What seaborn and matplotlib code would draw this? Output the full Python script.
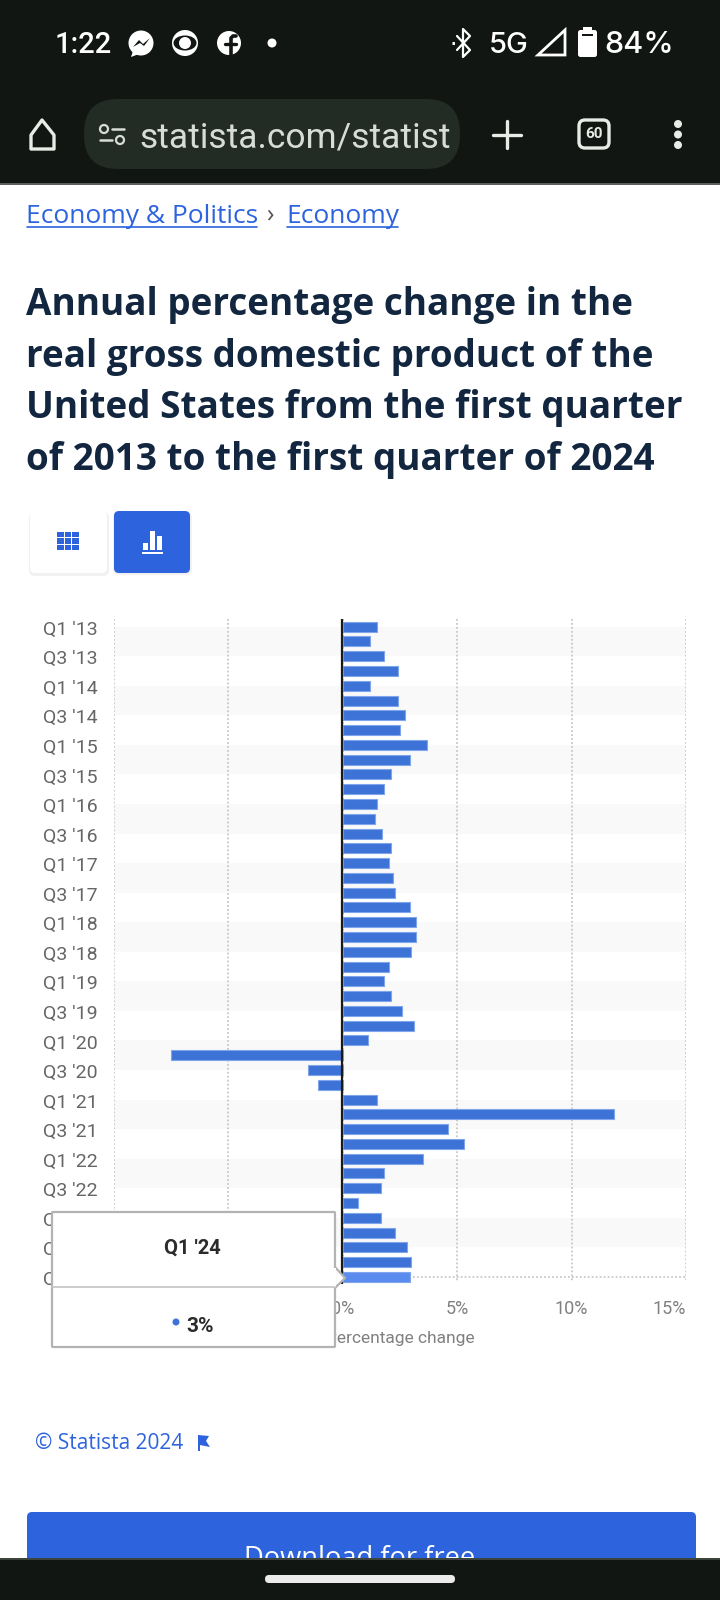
import matplotlib
matplotlib.use('Agg')
import matplotlib.pyplot as plt
from matplotlib.patches import Rectangle, FancyBboxPatch, Circle, Polygon, Ellipse
from matplotlib.transforms import ScaledTranslation
import pandas as pd
import seaborn as sns

quarters = [f"Q{q} '{y}" for y in range(13, 24) for q in range(1, 5)] + ["Q1 '24"]
gdp_change = [1.5, 1.2, 1.8, 2.4, 1.2, 2.4, 2.7, 2.5, 3.7, 2.95, 2.1, 1.8,
              1.5, 1.4, 1.7, 2.1, 2.0, 2.2, 2.3, 2.95, 3.2, 3.2, 3.0, 2.0,
              1.8, 2.1, 2.6, 3.1, 1.1, -7.5, -1.5, -1.1, 1.5, 11.85, 4.6, 5.3,
              3.5, 1.8, 1.65, 0.65, 1.65, 2.3, 2.8, 3.0, 2.95]
x_ticks = [-10, -5, 0, 5, 10, 15]
x_ticklabels = ['-10%', '-5%', '0%', '5%', '10%', '15%']
title_lines = ['Annual percentage change in the',
               'real gross domestic product of the',
               'United States from the first quarter',
               'of 2013 to the first quarter of 2024']

BLUE = '#2d64dd'
BAR = '#3d72d6'
DARK = '#111612'
W, H = 720, 1600

df = pd.DataFrame({'quarter': quarters, 'change': gdp_change})
df['hover'] = ['on' if q == "Q1 '24" else 'off' for q in quarters]

sns.set_theme(style='white')
plt.rcParams['font.family'] = ['Roboto', 'DejaVu Sans']

fig = plt.figure(figsize=(W / 100, H / 100), dpi=100, facecolor='white')
ax = fig.add_axes([114 / W, 1 - 1284.3 / H, (686 - 114) / W, 665 / H])
sns.barplot(data=df, x='change', y='quarter', hue='hover', orient='h', dodge=False,
            palette={'off': BAR, 'on': '#5a8cf0'}, legend=False, width=0.68, saturation=1,
            edgecolor='#7fa5ea', linewidth=0.8, ax=ax, zorder=3)
ax.set_xlim(-10, 15)
ax.set_ylim(44.5, -0.5)

# alternating bands, two rows wide, run from label to label
for i in range(0, len(quarters), 4):
    ax.axhspan(i, min(i + 2, 44), color='#f9f9f9', lw=0, zorder=0)
ax.vlines(x_ticks, -0.5, 44.3, color='#c8c8c8', lw=1.3, ls=(0, (1, 1.2)), zorder=1)
ax.hlines(44, 3.05, 15, color='#c8c8c8', lw=1.3, ls=(0, (1, 1.2)), zorder=1)
ax.axvline(-0.04, color='#1a1a1a', lw=1.6, zorder=4)

ax.set_xticks(x_ticks)
ax.set_xticklabels(x_ticklabels, color='#808080', fontsize=13)
ax.get_xticklabels()[-1].set_ha('right')
ax.get_xticklabels()[-1].set_x(15)
ax.set_yticks(range(0, len(quarters), 2))
ax.set_yticklabels(quarters[::2], color='#666666', fontsize=14)
ax.tick_params(axis='x', length=0, pad=11)
ax.tick_params(axis='y', length=0, pad=12)
# labels sit a little under their bars
for lab in ax.get_yticklabels():
    lab.set_transform(lab.get_transform() + ScaledTranslation(0, -0.01, fig.dpi_scale_trans))
ax.set_xlabel('Percentage change', color='#808080', fontsize=12.5, labelpad=10)
ax.set_ylabel('')
sns.despine(ax=ax, left=True, bottom=True)

# page chrome and tooltip on a pixel overlay
ov = fig.add_axes([0, 0, 1, 1], zorder=10)
ov.set_xlim(0, W)
ov.set_ylim(H, 0)
ov.axis('off')
ov.patch.set_alpha(0)


def rbox(x0, y0, x1, y1, r, fc, ec='none', lw=0, z=2):
    ov.add_patch(FancyBboxPatch((x0 + r, y0 + r), x1 - x0 - 2 * r, y1 - y0 - 2 * r,
                                boxstyle=f'round,pad={r}', fc=fc, ec=ec, lw=lw, zorder=z))


# status and toolbar
ov.add_patch(Rectangle((0, 0), W, 183, fc=DARK, lw=0, zorder=1))
ov.add_patch(Rectangle((0, 183), W, 2, fc='#5a5f5a', lw=0, zorder=1))
ov.text(55, 53, '1:22', color='white', fontsize=21, weight='medium', family='Roboto', zorder=3)
for cx, r in [(141, 12.5), (185, 13), (229, 12)]:
    ov.add_patch(Circle((cx, 43), r, fc='white', lw=0, zorder=3))
ov.add_patch(Polygon([(133, 47), (139, 40), (143, 44), (150, 38), (144, 46), (140, 43)],
                     fc=DARK, lw=0, zorder=4))
ov.add_patch(Polygon([(133, 51), (131, 57), (139, 54)], fc='white', lw=0, zorder=3))
ov.add_patch(Ellipse((185, 43), 23, 15, fc=DARK, lw=0, zorder=4))
ov.add_patch(Circle((185, 43), 6, fc='white', lw=0, zorder=5))
ov.plot([236, 233, 231, 231], [36, 36, 38, 55], color=DARK, lw=2.6, zorder=4)
ov.plot([225, 236], [44, 44], color=DARK, lw=2.4, zorder=4)
ov.add_patch(Circle((272, 43), 4.5, fc='white', lw=0, zorder=3))
ov.plot([457, 470, 463, 463, 470, 457], [36, 50, 57, 29, 36, 50], color='white', lw=1.6, zorder=3)
ov.plot([452, 474], [43, 43], color='white', lw=2.2, ls=(0, (0.8, 8)), zorder=3)
ov.text(489, 53, '5G', color='white', fontsize=21, weight='medium', family='Inter', zorder=3)
ov.add_patch(Polygon([(538, 55), (565, 30), (565, 55)], fc='none', ec='white', lw=2, zorder=3))
rbox(578, 30, 597, 57, 2.5, 'white', z=3)
ov.add_patch(Rectangle((583, 27), 9, 4, fc='white', lw=0, zorder=3))
ov.add_patch(Rectangle((582, 34), 11, 2, fc=DARK, lw=0, zorder=4))
ov.text(604, 53, '84%', color='white', fontsize=22, weight='medium', family='Inter', zorder=3)

ov.add_patch(Polygon([(31, 135), (42, 120), (54, 135), (54, 149), (31, 149)],
                     fc='none', ec='#e8ebe6', lw=2.4, joinstyle='round', zorder=3))
rbox(84, 99, 460, 169, 34, '#232b25')
ov.add_patch(Circle((104, 129), 4, fc='none', ec='#d8dcd6', lw=1.6, zorder=3))
ov.add_patch(Circle((120, 140), 4, fc='none', ec='#d8dcd6', lw=1.6, zorder=3))
ov.plot([112, 124], [129, 129], color='#d8dcd6', lw=1.8, zorder=3)
ov.plot([100, 112], [140, 140], color='#d8dcd6', lw=1.8, zorder=3)
ov.text(139.5, 148, 'statista.com/statist', color='#d8dcd6', fontsize=25.5, family='Roboto', zorder=3)
ov.plot([493, 521], [134.5, 134.5], color='#e8ebe6', lw=2.4, zorder=3)
ov.plot([507, 507], [121, 148], color='#e8ebe6', lw=2.4, zorder=3)
rbox(579, 120, 609, 148, 6, 'none', ec='#e8ebe6', lw=2.4, z=3)
ov.text(594, 134.5, '60', color='#e8ebe6', fontsize=11, weight='bold', family='Roboto',
        ha='center', va='center', zorder=3)
for cy in (124, 134.5, 145):
    ov.add_patch(Circle((678, cy), 4, fc='#e8ebe6', lw=0, zorder=3))

# breadcrumb
ov.text(26, 223, 'Economy & Politics', color=BLUE, fontsize=19, family='Open Sans')
ov.plot([27, 257], [227, 227], color=BLUE, lw=1.2)
ov.text(270, 222, '›', color='#555555', fontsize=18, family='Open Sans', ha='center')
ov.text(286, 223, 'Economy', color=BLUE, fontsize=19, family='Open Sans')
ov.plot([287, 398], [227, 227], color=BLUE, lw=1.2)

# title
for line, base in zip(title_lines, [315, 367, 418, 470]):
    ov.text(26, base, line, color='#12263f', fontsize=26.6, weight='bold', family='Open Sans')

# view switch buttons
rbox(29, 512, 109, 576, 6, '#f1f1f1', z=1)
rbox(30, 511, 107, 573, 5, 'white', z=2)
rbox(113, 512, 192, 575, 6, '#f1f1f1', z=1)
rbox(114, 511, 190, 573, 5, BLUE)
for col in range(3):
    for row in range(3):
        ov.add_patch(Rectangle((57 + col * 7.7, 532 + row * 6.3), 6.5, 5.2, fc=BLUE, lw=0, zorder=3))
for bx, top in [(143, 543), (150, 531), (157, 536)]:
    ov.add_patch(Rectangle((bx, top), 5, 550 - top, fc='white', lw=0, zorder=3))
ov.add_patch(Rectangle((142, 551.5), 21, 2, fc='white', lw=0, zorder=3))

# tooltip
ov.add_patch(FancyBboxPatch((53, 1213), 281, 133, boxstyle='round,pad=1', fc='white',
                            ec='#b3b3b3', lw=1.6, zorder=5))
ov.add_patch(Polygon([(335, 1267), (345, 1278), (335, 1288)], fc='white', ec='#b3b3b3',
                     lw=1.6, zorder=5))
ov.add_patch(Rectangle((332, 1268), 4, 19, fc='white', lw=0, zorder=6))
ov.plot([52, 335], [1287, 1287], color='#c4c4c4', lw=1.2, zorder=6)
ov.text(192, 1248, "Q1 '24", color='#2b2b2b', fontsize=14.5, weight='bold', family='Roboto',
        ha='center', va='center', zorder=7)
ov.add_patch(Circle((176, 1322), 3.5, fc=BAR, lw=0, zorder=7))
ov.text(186, 1326, '3%', color='#2b2b2b', fontsize=15, weight='bold', family='Roboto',
        ha='left', va='center', zorder=7)

# footer
ov.text(35, 1449, '© Statista 2024', color=BLUE, fontsize=15, family='Open Sans')
ov.add_patch(Polygon([(198, 1435), (209, 1436), (206, 1441), (210, 1447), (200, 1445),
                      (200, 1451), (198, 1451)], fc=BLUE, lw=0))
rbox(27, 1512, 696, 1600, 5, BLUE, z=1)
ov.text(360, 1566, 'Download for free', color='white', fontsize=19.6, family='Open Sans',
        ha='center', zorder=2)
ov.add_patch(Rectangle((0, 1558), W, 42, fc=DARK, lw=0, zorder=8))
ov.add_patch(Rectangle((0, 1558), W, 2, fc='#3c423c', lw=0, zorder=8))
rbox(265, 1575, 455, 1583, 4, '#ebebeb', z=9)

fig.savefig('out.png', dpi=100)
